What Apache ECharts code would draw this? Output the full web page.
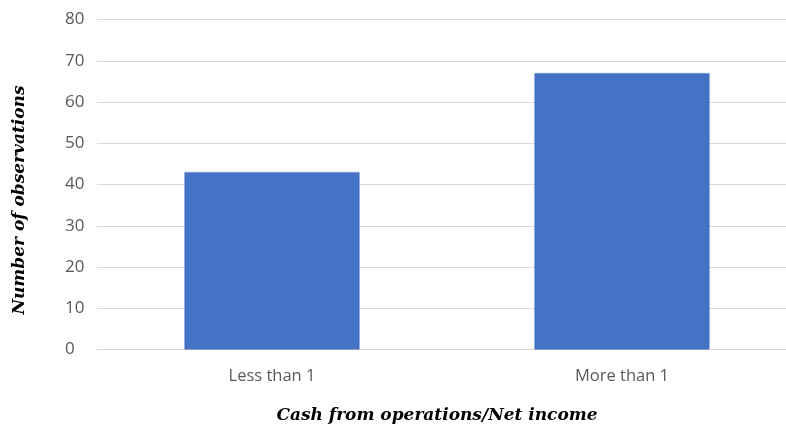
<!DOCTYPE html>
<html>
<head>
<meta charset="utf-8">
<script src="https://cdn.jsdelivr.net/npm/echarts@6/dist/echarts.min.js"></script>
<style>
  html, body { margin: 0; padding: 0; background: #ffffff; }
  #chart { width: 786px; height: 428px; }
</style>
</head>
<body>
<div id="chart"></div>
<script>
// Observation counts by ratio group
const categories = ['Less than 1', 'More than 1'];
const observations = [43, 67];
const yTicks = { min: 0, max: 80, interval: 10 };
const xTitle = 'Cash from operations/Net income';
const yTitle = 'Number of observations';

const chart = echarts.init(document.getElementById('chart'), null, { renderer: 'canvas' });

const titleFont = '"DejaVu Serif", serif';

chart.setOption({
  animation: false,
  backgroundColor: '#ffffff',
  // plot band runs slightly past the right edge of the canvas
  grid: { left: 97, width: 700, top: 19.5, height: 330, containLabel: false, outerBoundsMode: 'none' },
  xAxis: {
    type: 'category',
    data: categories,
    axisLine: { show: true, lineStyle: { color: '#d9d9d9', width: 1 } },
    axisTick: { show: false },
    axisLabel: { color: '#595959', fontFamily: '"Open Sans", sans-serif', fontSize: 16.5, margin: 18 }
  },
  yAxis: {
    type: 'value',
    min: yTicks.min,
    max: yTicks.max,
    interval: yTicks.interval,
    axisLine: { show: false },
    axisTick: { show: false },
    splitLine: { show: true, lineStyle: { color: '#d9d9d9', width: 1 } },
    // tick labels share a common left edge
    axisLabel: { color: '#595959', fontFamily: '"Open Sans", sans-serif', fontSize: 17, margin: 32, align: 'left' }
  },
  graphic: [
    {
      type: 'text',
      x: 437,
      y: 416,
      style: {
        text: xTitle,
        font: 'italic bold 17px ' + titleFont,
        fill: '#000000',
        align: 'center',
        verticalAlign: 'middle'
      }
    },
    {
      type: 'text',
      x: 20,
      y: 200,
      rotation: Math.PI / 2,
      style: {
        text: yTitle,
        font: 'italic bold 17px ' + titleFont,
        fill: '#000000',
        align: 'center',
        verticalAlign: 'middle'
      }
    }
  ],
  series: [{
    type: 'bar',
    data: observations,
    barCategoryGap: '50%',
    itemStyle: { color: '#4472c4', borderColor: '#3f6bb8', borderWidth: 0.5 }
  }]
});
</script>
</body>
</html>
